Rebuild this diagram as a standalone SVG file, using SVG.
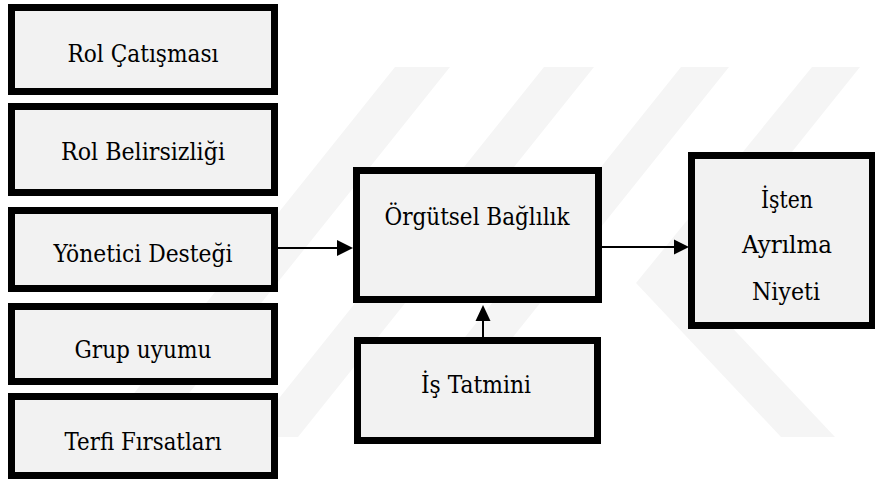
<svg xmlns="http://www.w3.org/2000/svg" width="875" height="480" viewBox="0 0 875 480">
<style>
.box{fill:#f2f2f2;stroke:#000;stroke-width:7}
.con{stroke:#000;stroke-width:2;fill:none}
.head{fill:#000}
.wm{fill:#f5f5f5}
</style>
<rect width="875" height="480" fill="#fff"/>
<g id="watermark">
<polygon class="wm" points="395,67 450,67 154,437 99,437"/>
<polygon class="wm" points="544,67 594,67 298,437 248,437"/>
<polygon class="wm" points="681,67 729,67 433,437 385,437"/>
<polygon class="wm" points="812,67 860,67 687,283 636,283"/>
<polygon class="wm" points="636,283 690,283 835,437 781,437"/>
</g>
<g font-family="DejaVu Serif, serif" font-size="24" fill="#000" text-anchor="middle" lengthAdjust="spacingAndGlyphs">
<g id="rol-catismasi"><rect class="box" x="11.5" y="7.5" width="263" height="84"/><text x="143" y="62" textLength="151" lengthAdjust="spacingAndGlyphs">Rol Çatışması</text></g>
<g id="rol-belirsizligi"><rect class="box" x="11.5" y="106.5" width="263" height="86"/><text x="143" y="160" textLength="164" lengthAdjust="spacingAndGlyphs">Rol Belirsizliği</text></g>
<g id="yonetici-destegi"><rect class="box" x="11.5" y="210.5" width="263" height="78"/><text x="143" y="262" textLength="179" lengthAdjust="spacingAndGlyphs">Yönetici Desteği</text></g>
<g id="grup-uyumu"><rect class="box" x="11.5" y="306.5" width="263" height="75"/><text x="143" y="358" textLength="137" lengthAdjust="spacingAndGlyphs">Grup uyumu</text></g>
<g id="terfi-firsatlari"><rect class="box" x="11.5" y="396.5" width="263" height="79"/><text x="143" y="450" textLength="157" lengthAdjust="spacingAndGlyphs">Terfi Fırsatları</text></g>
<g id="orgutsel-baglilik"><rect class="box" x="356.5" y="170.5" width="242" height="129"/><text x="477" y="225" textLength="185" lengthAdjust="spacingAndGlyphs">Örgütsel Bağlılık</text></g>
<g id="is-tatmini"><rect class="box" x="357.5" y="340.5" width="240" height="100"/><text x="476" y="393" textLength="110" lengthAdjust="spacingAndGlyphs">İş Tatmini</text></g>
<g id="isten-ayrilma-niyeti"><rect class="box" x="691.5" y="155.5" width="181" height="170"/><text x="787" y="208" textLength="52" lengthAdjust="spacingAndGlyphs">İşten</text><text x="787" y="253" textLength="90" lengthAdjust="spacingAndGlyphs">Ayrılma</text><text x="786" y="300" textLength="68" lengthAdjust="spacingAndGlyphs">Niyeti</text></g>
</g>
<g id="connectors">
<line class="con" x1="278" y1="248" x2="339" y2="248"/>
<polygon class="head" points="337,240 353,248 337,256"/>
<line class="con" x1="602" y1="247" x2="676" y2="247"/>
<polygon class="head" points="674,239.5 689,247 674,254.5"/>
<line class="con" x1="483" y1="337" x2="483" y2="319"/>
<polygon class="head" points="475.5,321 483,305 490.5,321"/>
</g>
</svg>
